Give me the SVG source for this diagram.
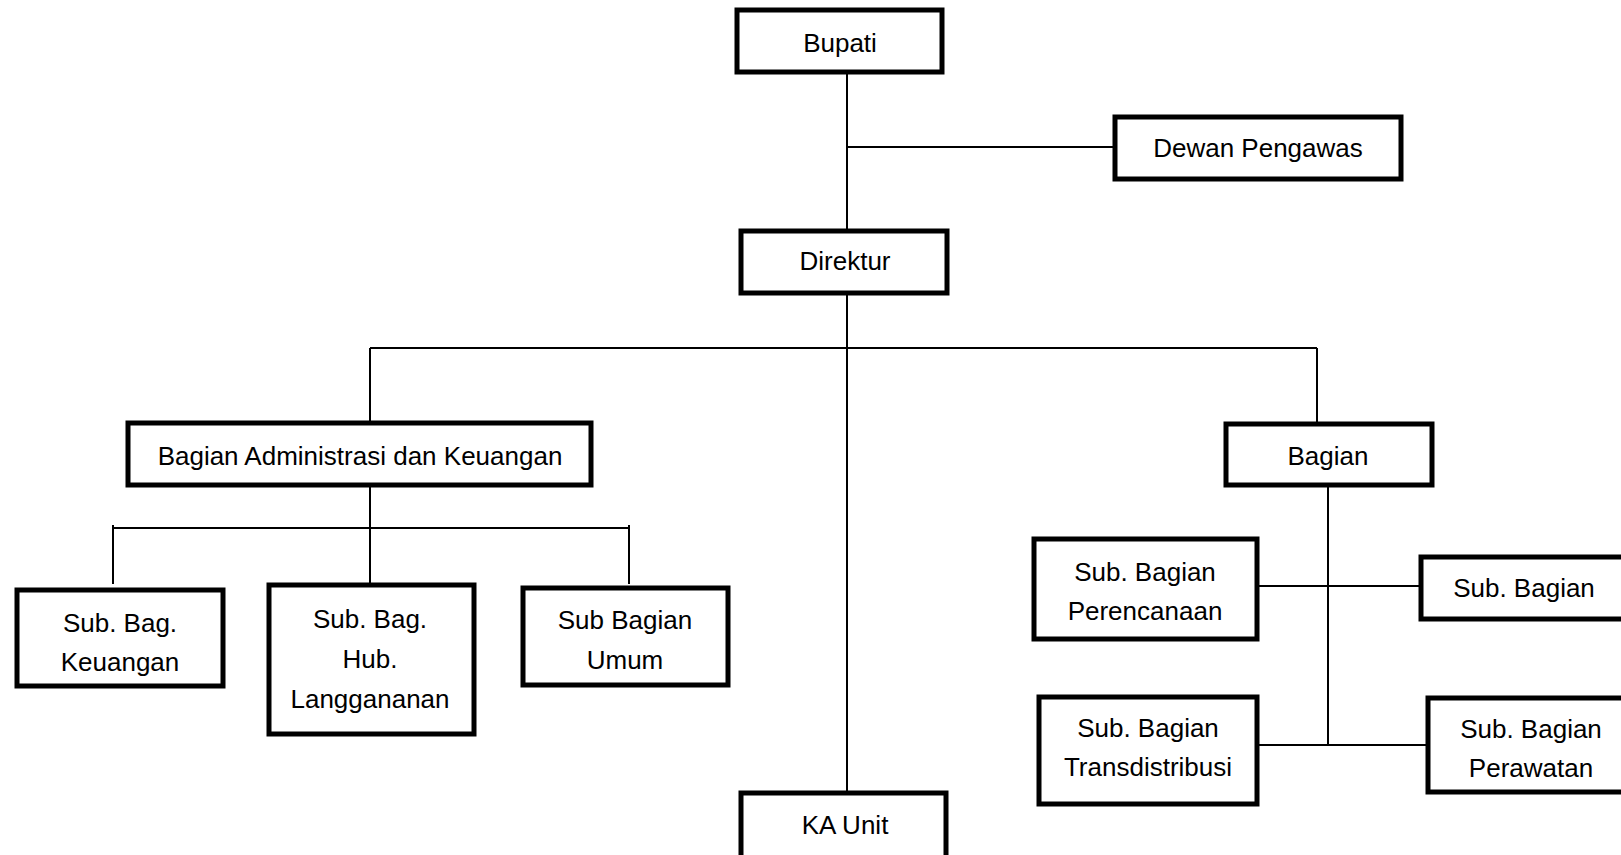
<svg xmlns="http://www.w3.org/2000/svg" width="1621" height="855" viewBox="0 0 1621 855">
<style>
.box{fill:#fff;stroke:#000;stroke-width:5}
.ln{stroke:#000;stroke-width:2;fill:none}
text{font-family:"Liberation Sans",Arial,sans-serif;font-size:26px;fill:#000;text-anchor:middle}
</style>
<rect width="1621" height="855" fill="#fff"/>
<g id="connectors">
<line class="ln" x1="847" y1="70" x2="847" y2="231"/>
<line class="ln" x1="847" y1="147" x2="1115" y2="147"/>
<line class="ln" x1="847" y1="293" x2="847" y2="793"/>
<line class="ln" x1="370" y1="348" x2="1317" y2="348"/>
<line class="ln" x1="370" y1="348" x2="370" y2="423"/>
<line class="ln" x1="1317" y1="348" x2="1317" y2="424"/>
<line class="ln" x1="370" y1="485" x2="370" y2="585"/>
<line class="ln" x1="112" y1="528" x2="629" y2="528"/>
<line class="ln" x1="113" y1="525" x2="113" y2="584"/>
<line class="ln" x1="629" y1="525" x2="629" y2="584"/>
<line class="ln" x1="1328" y1="485" x2="1328" y2="745"/>
<line class="ln" x1="1257" y1="586" x2="1421" y2="586"/>
<line class="ln" x1="1257" y1="745" x2="1428" y2="745"/>
</g>
<g id="bupati"><rect class="box" x="737" y="10" width="205" height="62"/><text x="840" y="52">Bupati</text></g>
<g id="dewan"><rect class="box" x="1115" y="117" width="286" height="62"/><text x="1258" y="157">Dewan Pengawas</text></g>
<g id="direktur"><rect class="box" x="741" y="231" width="206" height="62"/><text x="845" y="270">Direktur</text></g>
<g id="bag-admin"><rect class="box" x="128" y="423" width="463" height="62"/><text x="360" y="465">Bagian Administrasi dan Keuangan</text></g>
<g id="bagian"><rect class="box" x="1226" y="424" width="206" height="61"/><text x="1328" y="465">Bagian</text></g>
<g id="sub-keuangan"><rect class="box" x="17" y="590" width="206" height="96"/><text x="120" y="632">Sub. Bag.</text><text x="120" y="671">Keuangan</text></g>
<g id="sub-hub"><rect class="box" x="269" y="585" width="205" height="149"/><text x="370" y="628">Sub. Bag.</text><text x="370" y="668">Hub.</text><text x="370" y="708">Langgananan</text></g>
<g id="sub-umum"><rect class="box" x="523" y="588" width="205" height="97"/><text x="625" y="629">Sub Bagian</text><text x="625" y="669">Umum</text></g>
<g id="sub-perencanaan"><rect class="box" x="1034" y="539" width="223" height="100"/><text x="1145" y="581">Sub. Bagian</text><text x="1145" y="620">Perencanaan</text></g>
<g id="sub-bagian"><rect class="box" x="1421" y="557" width="220" height="62"/><text x="1524" y="597">Sub. Bagian</text></g>
<g id="sub-transdistribusi"><rect class="box" x="1039" y="697" width="218" height="107"/><text x="1148" y="737">Sub. Bagian</text><text x="1148" y="776">Transdistribusi</text></g>
<g id="sub-perawatan"><rect class="box" x="1428" y="698" width="220" height="94"/><text x="1531" y="738">Sub. Bagian</text><text x="1531" y="777">Perawatan</text></g>
<g id="ka-unit"><rect class="box" x="741" y="793" width="205" height="80"/><text x="845" y="834">KA Unit</text></g>
</svg>
